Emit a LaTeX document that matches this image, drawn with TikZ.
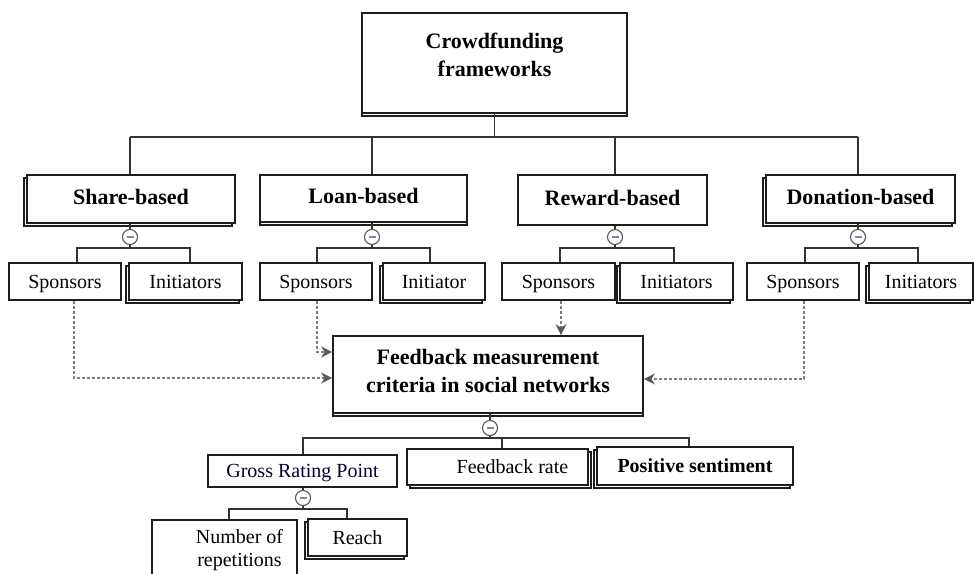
\documentclass[tikz,border=0pt]{standalone}
\usepackage{fontspec}
\setmainfont{Liberation Serif}
\usetikzlibrary{shadows,arrows.meta}
\definecolor{boxline}{HTML}{1E1E1E}
\definecolor{conn}{HTML}{333333}
\definecolor{dashc}{HTML}{7E7E7E}
\definecolor{minusc}{HTML}{7A86A8}
\tikzset{
 box/.style={draw=boxline, fill=white, line width=1.5pt, inner sep=2pt, anchor=center, text=black},
 shL/.style={copy shadow={shadow xshift=-3pt, shadow yshift=-3pt}},
 shR/.style={copy shadow={shadow xshift=3pt, shadow yshift=-3pt}},
 shD/.style={copy shadow={shadow xshift=0pt, shadow yshift=-3pt}},
 bigb/.style={font=\fontsize{22}{28}\selectfont\bfseries},
 midb/.style={font=\fontsize{20}{24}\selectfont\bfseries},
 reg/.style={font=\fontsize{20}{23}\selectfont},
 tl/.style={text height=15pt, text depth=5pt},
 tr/.style={text height=16pt, text depth=2.5pt},
 link/.style={draw=conn, line width=1.8pt},
 dlink/.style={draw=dashc, line width=2.2pt, dash pattern=on 3.5pt off 1.5pt, -{Stealth[length=11pt,width=11pt,color=black!65]}},
 mcirc/.style={circle, draw=gray!70!black, fill=white, line width=1.1pt, minimum size=15pt, inner sep=0pt,
   path picture={\draw[minusc, line width=1.3pt] ([xshift=-3.5pt]path picture bounding box.center) -- ([xshift=3.5pt]path picture bounding box.center);}},
}
\begin{document}
\begin{tikzpicture}[x=1pt,y=-1pt]
\useasboundingbox (0,0) rectangle (974,573);
\clip (0,0) rectangle (974,573);
% top level
\node[box, bigb, align=center, line width=2.8pt, minimum width=265pt, minimum height=100pt, shD] (top) at (494.5,63) {Crowdfunding\\frameworks\\[-12pt]\mbox{}};
\node[box, bigb, tl, minimum width=208pt, minimum height=48pt, shL] (share) at (131,199) {Share-based};
\node[box, bigb, tl, minimum width=207pt, minimum height=47pt, shD] (loan) at (363.5,198.5) {Loan-based};
\node[box, bigb, tl, minimum width=189pt, minimum height=50pt] (reward) at (612.5,200) {Reward-based};
\node[box, bigb, tl, minimum width=189pt, minimum height=48pt, shL] (donation) at (860.5,199) {Donation-based};
\coordinate (b1) at (130,137);
\coordinate (b4) at (858,137);
\draw[link] (top.south) -- (top.south |- b1);
\draw[link] (b1) -- (b4);
% minus circles
\node[mcirc] (m1) at (130,237) {};
\node[mcirc] (m2) at (372,237) {};
\node[mcirc] (m3) at (615,237) {};
\node[mcirc] (m4) at (858,237) {};
\draw[link] (m1 |- b1) -- (share.north -| m1);
\draw[link] (m2 |- b1) -- (loan.north -| m2);
\draw[link] (m3 |- b1) -- (reward.north -| m3);
\draw[link] (b4) -- (donation.north -| b4);
\draw[link] (share.south -| m1) -- (m1.north);
\draw[link] (loan.south -| m2) -- (m2.north);
\draw[link] (reward.south -| m3) -- (m3.north);
\draw[link] (donation.south -| m4) -- (m4.north);
% second row
\node[box, reg, tr, minimum width=112pt, minimum height=37pt] (s1) at (65,281.5) {Sponsors};
\node[box, reg, tr, minimum width=113pt, minimum height=37pt, shL] (i1) at (185.5,281.5) {Initiators};
\node[box, reg, tr, minimum width=112pt, minimum height=37pt] (s2) at (316,281.5) {Sponsors};
\node[box, reg, tr, minimum width=102pt, minimum height=37pt, shL] (i2) at (434,281.5) {Initiator};
\node[box, reg, tr, minimum width=113pt, minimum height=37pt] (s3) at (558.5,281.5) {Sponsors};
\node[box, reg, tr, minimum width=113pt, minimum height=37pt, shL] (i3) at (676.5,281.5) {Initiators};
\node[box, reg, tr, minimum width=112pt, minimum height=37pt] (s4) at (803,281.5) {Sponsors};
\node[box, reg, tr, minimum width=104pt, minimum height=37pt, shL] (i4) at (921,281.5) {Initiators};
\coordinate (k1a) at (77,248);  \coordinate (k1b) at (190,248);
\coordinate (k2a) at (317,248); \coordinate (k2b) at (430,248);
\coordinate (k3a) at (560,248); \coordinate (k3b) at (674,248);
\coordinate (k4a) at (805,248); \coordinate (k4b) at (918,248);
\draw[link] (m1.south) -- (m1 |- k1a);
\draw[link] (m2.south) -- (m2 |- k2a);
\draw[link] (m3.south) -- (m3 |- k3a);
\draw[link] (m4.south) -- (m4 |- k4a);
\draw[link] (s1.north -| k1a) |- (k1b) -- (i1.north -| k1b);
\draw[link] (s2.north -| k2a) |- (k2b) -- (i2.north -| k2b);
\draw[link] (s3.north -| k3a) |- (k3b) -- (i3.north -| k3b);
\draw[link] (s4.north -| k4a) |- (k4b) -- (i4.north -| k4b);
% feedback box
\node[box, bigb, align=center, line width=1.8pt, minimum width=310pt, minimum height=77pt, shD] (fb) at (488,374.5) {Feedback measurement\\criteria in social networks\\[-20pt]\mbox{}};
\draw[dlink] (s1.south -| 74,0) |- (fb.west |- 0,378);
\draw[dlink] (s2.south -| 317,0) |- (fb.west |- 0,352);
\draw[dlink] (s3.south -| 561,0) -- (fb.north -| 561,0);
\draw[dlink] (s4.south -| 804,0) |- (fb.east |- 0,379);
% third level
\node[mcirc] (m5) at (490,428) {};
\node[box, reg, tr, text=black!80!blue, minimum width=189pt, minimum height=32pt] (grp) at (302.5,471) {Gross Rating Point};
\node[box, reg, tr, minimum width=181pt, minimum height=36pt, shR] (frate) at (497.5,467) {\hspace*{30pt}Feedback rate};
\node[box, midb, tr, minimum width=196pt, minimum height=38pt, shL] (pos) at (695,466) {Positive sentiment};
\coordinate (c2a) at (303,438);
\coordinate (c2m) at (502,438);
\coordinate (c2b) at (689,438);
\draw[link] (fb.south -| m5) -- (m5.north);
\draw[link] (m5.south) -- (m5 |- c2a);
\draw[link] (grp.north -| c2a) |- (c2b) -- (pos.north -| c2b);
\draw[link] (c2m) -- (frate.north -| c2m);
% fourth level
\node[mcirc] (m6) at (303,498) {};
\node[box, reg, align=center, anchor=north, minimum width=145pt, minimum height=60pt] (nrep) at (224.5,519) {\hspace*{30pt}Number of\\\hspace*{30pt}repetitions};
\node[box, reg, tr, minimum width=99pt, minimum height=37pt, shL] (reach) at (357.5,537.5) {Reach};
\coordinate (c3a) at (229,509);
\coordinate (c3b) at (347,509);
\draw[link] (grp.south -| m6) -- (m6.north);
\draw[link] (m6.south) -- (m6 |- c3a);
\draw[link] (nrep.north -| c3a) |- (c3b) -- (reach.north -| c3b);
\end{tikzpicture}
\end{document}
